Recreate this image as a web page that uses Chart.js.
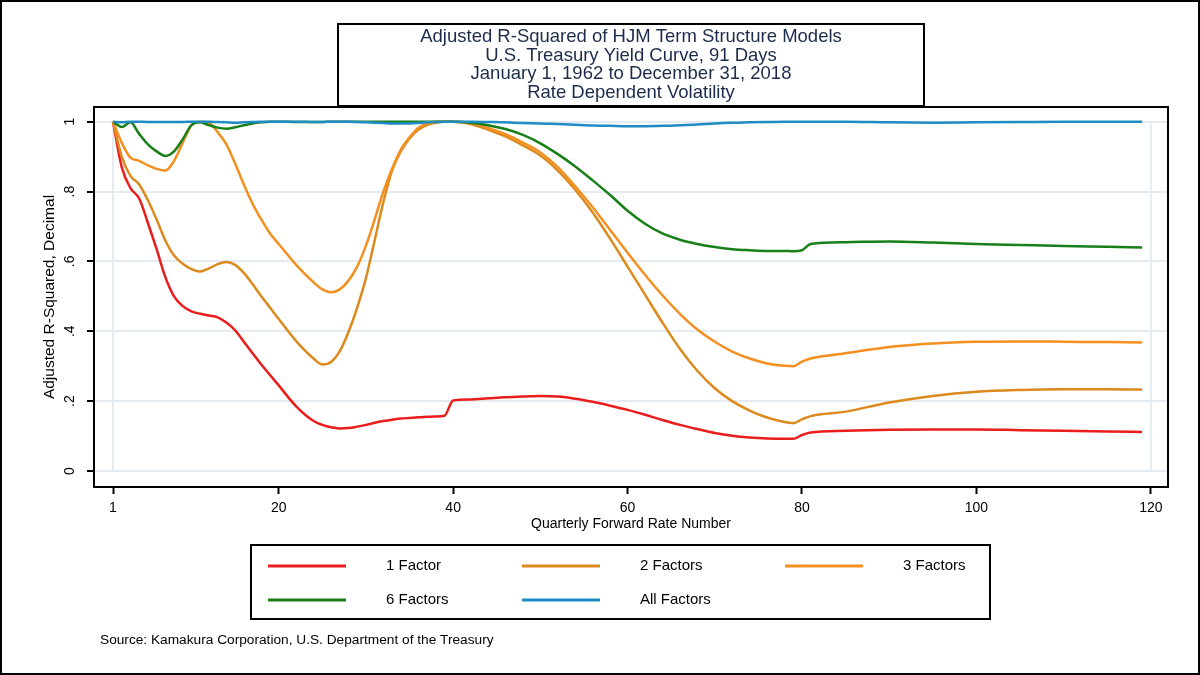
<!DOCTYPE html>
<html>
<head>
<meta charset="utf-8">
<script src="https://cdn.jsdelivr.net/npm/chart.js@4.4.1/dist/chart.umd.min.js"></script>
<style>
  html, body { margin: 0; padding: 0; background: #fff; }
  #wrap { width: 1200px; height: 675px; }
</style>
</head>
<body>
<div id="wrap"><canvas id="hjmChart" width="1200" height="675"></canvas></div>
<script>
const forwardRate = [1, 2, 3, 4, 5, 6, 7, 8, 9, 10, 11, 12, 13, 14, 15, 16, 17, 18, 19, 20,
  22, 24, 25, 26, 27, 28, 29, 30, 31, 32, 33, 34, 35, 36, 37, 38, 39, 40,
  42, 44, 46, 48, 50, 52, 54, 56, 58, 60, 62, 64, 66, 68, 70, 72, 74, 76, 78,
  79, 80, 81, 85, 90, 95, 100, 105, 110, 115, 119];

const oneFactor = [1, .87, .81, .78, .71, .635, .555, .50, .472, .457, .45, .445, .44, .425, .403, .37, .337, .305, .275, .245,
  .185, .143, .132, .125, .122, .123, .127, .132, .138, .143, .147, .15, .152, .154, .155, .156, .158, .202,
  .205, .208, .211, .213, .215, .213, .207, .198, .187, .175, .161, .146, .132, .12, .109, .101, .096, .093, .092,
  .092, .103, .11, .115, .118, .119, .119, .117, .115, .113, .112];

const twoFactors = [1, .90, .845, .82, .775, .72, .66, .617, .593, .578, .571, .58, .592, .598, .59, .567, .535, .50, .468, .435,
  .372, .322, .305, .312, .343, .398, .468, .552, .66, .77, .86, .915, .952, .977, .99, .997, 1, 1,
  .993, .977, .958, .932, .903, .86, .805, .74, .665, .585, .505, .425, .35, .287, .237, .2, .173, .153, .14,
  .137, .148, .157, .17, .196, .215, .227, .232, .234, .234, .233];

const threeFactors = [1, .94, .897, .888, .875, .865, .86, .888, .94, .99, 1, .997, .97, .935, .88, .82, .765, .72, .68, .65,
  .59, .54, .52, .512, .52, .545, .585, .645, .72, .8, .865, .92, .955, .982, .995, 1, 1, 1,
  .996, .982, .964, .94, .912, .87, .815, .755, .69, .625, .562, .503, .45, .405, .37, .342, .322, .308, .301,
  .30, .313, .322, .337, .355, .365, .37, .371, .37, .369, .368];

const sixFactors = [1, .985, .998, .965, .935, .915, .902, .915, .95, .99, .998, .99, .983, .98, .984, .99, .995, .998, 1, 1,
  .999, .999, .999, 1, 1, 1, 1, 1, 1, 1, 1, 1, 1, 1, 1, 1, 1, 1,
  .997, .99, .979, .962, .938, .907, .872, .832, .79, .745, .708, .68, .662, .65, .641, .635, .632, .63, .63,
  .629, .632, .65, .655, .657, .654, .65, .647, .644, .642, .64];

const allFactors = [1, .998, 1, 1, .999, .999, .999, .999, .999, 1, 1, 1, .999, .998, .997, .998, .999, 1, 1, 1,
  1, .999, .999, 1, 1, 1, .999, .998, .997, .996, .995, .995, .995, .996, .998, .999, 1, 1,
  1, .999, .998, .996, .995, .993, .991, .989, .988, .987, .987, .988, .99, .992, .995, .997, .998, .999, 1,
  1, 1, 1, 1, .998, .997, .998, .999, 1, 1, 1];

const seriesLabels = ['1 Factor', '2 Factors', '3 Factors', '6 Factors', 'All Factors'];
const xTicks = [1, 20, 40, 60, 80, 100, 120];
const yTicks = [0, 0.2, 0.4, 0.6, 0.8, 1];

const titleLines = [
  'Adjusted R-Squared of HJM Term Structure Models',
  'U.S. Treasury Yield Curve, 91 Days',
  'January 1, 1962 to December 31, 2018',
  'Rate Dependent Volatility'
];
const sourceNote = 'Source: Kamakura Corporation, U.S. Department of the Treasury';

const FONT = '"Liberation Sans", Arial, sans-serif';
const colors = ['#ea1c1c', '#dc8a1e', '#f39020', '#197f19', '#1f8cc4'];

// Stata style labels: ".2" instead of "0.2"
function yLabel(v) {
  if (v === 0 || v === 1) return String(v);
  return String(v).replace(/^0/, '');
}

function toPoints(values) {
  return forwardRate.map((x, i) => ({ x: x, y: values[i] }));
}

const allSeries = [oneFactor, twoFactors, threeFactors, sixFactors, allFactors];

const stataFrame = {
  id: 'stataFrame',
  beforeDatasetsDraw(chart) {
    // vertical grid lines only at first and last x tick, between y=0 and y=1
    const { ctx, scales: { x, y } } = chart;
    ctx.save();
    ctx.strokeStyle = '#e4ecf1';
    ctx.lineWidth = 2;
    [xTicks[0], xTicks[xTicks.length - 1]].forEach(v => {
      const px = x.getPixelForValue(v);
      ctx.beginPath();
      ctx.moveTo(px, y.getPixelForValue(yTicks[0]));
      ctx.lineTo(px, y.getPixelForValue(yTicks[yTicks.length - 1]));
      ctx.stroke();
    });
    ctx.restore();
  },
  afterDraw(chart) {
    const { ctx, chartArea: a, scales: { y } } = chart;
    ctx.save();

    // outer frame
    ctx.strokeStyle = '#000';
    ctx.lineWidth = 2;
    ctx.strokeRect(1, 1, 1198, 673);

    // plot region frame
    ctx.strokeRect(a.left, a.top, a.right - a.left, a.bottom - a.top);

    // rotated y tick labels
    ctx.fillStyle = '#000';
    ctx.font = '14px ' + FONT;
    ctx.textAlign = 'center';
    ctx.textBaseline = 'middle';
    yTicks.forEach(v => {
      ctx.save();
      ctx.translate(a.left - 24, y.getPixelForValue(v));
      ctx.rotate(-Math.PI / 2);
      ctx.fillText(yLabel(v), 0, 0);
      ctx.restore();
    });

    // title box
    const cx = (a.left + a.right) / 2;
    ctx.fillStyle = '#fff';
    ctx.fillRect(338, 24, 586, 82);
    ctx.strokeRect(338, 24, 586, 82);
    ctx.fillStyle = '#1c2b4b';
    ctx.font = '18.5px ' + FONT;
    titleLines.forEach((t, i) => ctx.fillText(t, cx, 37 + i * 18.7));

    // legend box
    ctx.strokeStyle = '#000';
    ctx.strokeRect(251, 545, 739, 74);
    const cols = [268, 522, 785];
    const rows = [566, 600];
    ctx.font = '15px ' + FONT;
    ctx.textAlign = 'left';
    chart.data.datasets.forEach((ds, i) => {
      const lx = cols[i % 3];
      const ly = rows[Math.floor(i / 3)];
      ctx.strokeStyle = ds.borderColor;
      ctx.lineWidth = 3;
      ctx.beginPath();
      ctx.moveTo(lx, ly);
      ctx.lineTo(lx + 78, ly);
      ctx.stroke();
      ctx.fillStyle = '#000';
      ctx.fillText(ds.label, lx + 118, ly);
    });

    // source note
    ctx.font = '13.7px ' + FONT;
    ctx.fillText(sourceNote, 100, 640);
    ctx.restore();
  }
};

const ctx = document.getElementById('hjmChart').getContext('2d');
new Chart(ctx, {
  type: 'line',
  data: {
    datasets: allSeries.map((vals, i) => ({
      label: seriesLabels[i],
      data: toPoints(vals),
      borderColor: colors[i],
      borderWidth: 2.5,
      pointRadius: 0,
      fill: false,
      cubicInterpolationMode: 'monotone',
      order: allSeries.length - i
    }))
  },
  options: {
    responsive: false,
    animation: false,
    devicePixelRatio: 1,
    layout: { padding: { left: 0, top: 107, right: 32, bottom: 0 } },
    plugins: {
      legend: { display: false },
      tooltip: { enabled: false }
    },
    scales: {
      x: {
        type: 'linear',
        min: -1.18,
        max: 121.97,
        afterBuildTicks: scale => { scale.ticks = xTicks.map(v => ({ value: v })); },
        afterFit: scale => { scale.height = 188; },
        ticks: {
          color: '#000',
          font: { family: FONT, size: 14 },
          padding: 6,
          maxRotation: 0,
          callback: v => String(v)
        },
        grid: { drawOnChartArea: false, tickLength: 7, tickColor: '#000', tickWidth: 2 },
        border: { display: true, color: '#000', width: 2 },
        title: {
          display: true,
          text: 'Quarterly Forward Rate Number',
          color: '#000',
          font: { family: FONT, size: 14 },
          padding: { top: 0, bottom: 142 }
        }
      },
      y: {
        min: -0.0458,
        max: 1.042,
        afterBuildTicks: scale => { scale.ticks = yTicks.map(v => ({ value: v })); },
        afterFit: scale => { scale.width = 94; },
        ticks: { display: false },
        grid: { color: '#e4ecf1', lineWidth: 2, tickLength: 7, tickColor: '#000', tickWidth: 2 },
        border: { display: true, color: '#000', width: 2 },
        title: {
          display: true,
          text: 'Adjusted R-Squared, Decimal',
          color: '#000',
          font: { family: FONT, size: 15.5 },
          padding: { top: 40, bottom: 0 }
        }
      }
    }
  },
  plugins: [stataFrame]
});
</script>
</body>
</html>
